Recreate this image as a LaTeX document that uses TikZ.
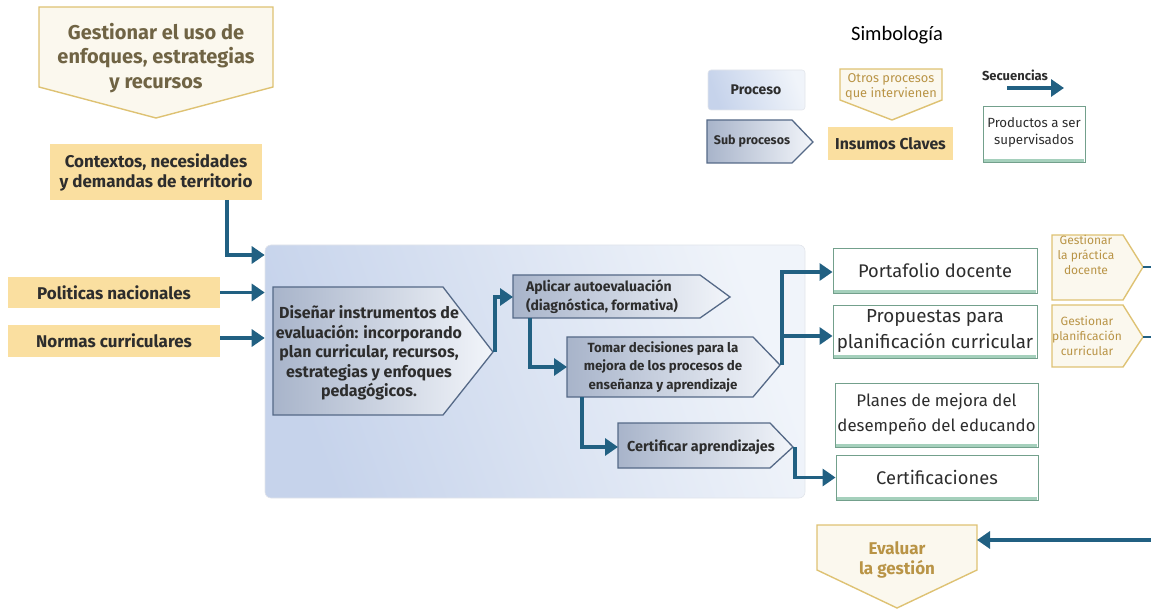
\documentclass[tikz,border=0pt]{standalone}
\usepackage{fontspec}
\setmainfont{Fira Sans}
\newfontfamily\calibri{Carlito}
\usetikzlibrary{arrows.meta}
\definecolor{arrowc}{RGB}{33,96,130}
\definecolor{insc}{RGB}{250,223,160}
\definecolor{txtdark}{RGB}{45,45,45}
\definecolor{goldb}{RGB}{222,194,115}
\definecolor{cream}{RGB}{251,248,238}
\definecolor{gtxt}{RGB}{112,100,68}
\definecolor{goldtxt}{RGB}{185,148,70}
\definecolor{subb}{RGB}{85,105,135}
\definecolor{subL}{RGB}{168,180,202}
\definecolor{subR}{RGB}{242,245,250}
\definecolor{procA}{RGB}{198,211,235}
\definecolor{procB}{RGB}{240,244,250}
\definecolor{prodb}{RGB}{115,160,140}
\definecolor{prodbar}{RGB}{165,208,188}
\begin{document}
\begin{tikzpicture}[x=1pt,y=-1pt,
  every node/.style={inner sep=0pt, align=center},
  arr/.style={draw=arrowc, line width=3.2pt, line join=miter, -{Triangle[length=13pt,width=17pt]}},
  plain/.style={draw=arrowc, line width=3.2pt, line join=miter},
  insumo/.style={fill=insc, text=txtdark, font=\bfseries\fontsize{17}{20}\selectfont},
  otros/.style={draw=goldb, line width=1.4pt, fill=cream},
  subp/.style={draw=subb, line width=1.3pt, left color=subL, right color=subR},
  subtxt/.style={text=txtdark, font=\bfseries\fontsize{13.5}{19}\selectfont},
  procbox/.style={draw=procA!80!black!30, line width=0.6pt, rounded corners=6pt, left color=procA, right color=procB, shading angle=110},
  prod/.style={draw=prodb, line width=0.9pt, fill=white},
  prodtxt/.style={text=txtdark, font=\fontsize{18.3}{24}\selectfont}
]
\useasboundingbox (0,0) rectangle (1151,609);

% ---------- legend ----------
\node[font=\calibri\fontsize{20.5}{22}\selectfont] (simb) at (897,35) {Simbología};
\path[procbox, rounded corners=3pt] (708,70) rectangle (805,110);
\node[subtxt, font=\bfseries\fontsize{14}{15}\selectfont] (lproc) at (756,90) {Proceso};
\path[subp] (707,120) -- (792,120) -- (813,142) -- (792,163) -- (707,163) -- cycle;
\node[subtxt, font=\bfseries\fontsize{12.5}{14}\selectfont] (lsub) at (752,141) {Sub procesos};
\path[otros] (840,69) -- (942,69) -- (942,100) -- (892,120) -- (840,100) -- cycle;
\node[text=goldtxt, font=\fontsize{12.8}{15}\selectfont] (lotros) at (891,87) {Otros procesos\\que intervienen};
\node[insumo, font=\bfseries\fontsize{15.8}{17}\selectfont, minimum width=125pt, minimum height=33pt] (lins) at (890.5,143.5) {Insumos Claves};
\node[text=txtdark, font=\bfseries\fontsize{13}{14}\selectfont] (lsec) at (1015,75) {Secuencias};
\coordinate (lsecA) at (1007,88);
\coordinate (lsecB) at (1064,88);
\draw[arr] (lsecA) -- (lsecB);
\node[prod, minimum width=102pt, minimum height=56pt] (lprod) at (1034,134) {};
\draw[prodbar, line width=2.5pt] ([xshift=1pt,yshift=2pt]lprod.south west) -- ([xshift=-1pt,yshift=2pt]lprod.south east);
\node[text=txtdark, font=\fontsize{13.3}{17}\selectfont] at (1034,132) {Productos a ser\\supervisados};

% ---------- top inputs ----------
\path[otros] (39,7) -- (273,7) -- (273,87) -- (156,118) -- (39,87) -- cycle;
\node[text=gtxt, font=\bfseries\fontsize{20}{24.5}\selectfont] (g1) at (156,58) {Gestionar el uso de\\enfoques, estrategias\\y recursos};

\node[insumo, minimum width=212pt, minimum height=56pt] (ctx) at (156,172) {Contextos, necesidades\\y demandas de territorio};
\node[insumo, minimum width=212pt, minimum height=31pt] (pol) at (114,292.5) {Politicas nacionales};
\node[insumo, minimum width=212pt, minimum height=32pt] (nor) at (114,341) {Normas curriculares};

% ---------- main process ----------
\node[procbox, minimum width=540pt, minimum height=253pt] (main) at (535,371.5) {};

\path[subp] (273,287) -- (443,287) -- (493,352) -- (443,415) -- (273,415) -- cycle;
\node[subtxt, font=\bfseries\fontsize{16}{19.5}\selectfont] (dis) at (369,353) {Diseñar instrumentos de\\evaluación: incorporando\\plan curricular, recursos,\\estrategias y enfoques\\pedagógicos.};
\coordinate (disTip) at (495,352);

\path[subp] (513,275) -- (700,275) -- (730,297) -- (700,318) -- (513,318) -- cycle;
\node[subtxt, align=left, font=\bfseries\fontsize{14}{19}\selectfont] (apl) at (602,297) {Aplicar autoevaluación\\(diagnóstica, formativa)};
\coordinate (aplW) at (513,297);
\coordinate (aplS) at (530,318);

\path[subp] (567,337) -- (753,337) -- (780,365) -- (753,397) -- (567,397) -- cycle;
\node[subtxt, font=\bfseries\fontsize{13.3}{18.5}\selectfont] (tom) at (663,367) {Tomar decisiones para la\\mejora de los procesos de\\enseñanza y aprendizaje};
\coordinate (tomW) at (567,367);
\coordinate (tomS) at (582,397);
\coordinate (tomTip) at (782,365);

\path[subp] (618,423) -- (770,423) -- (793,447) -- (770,468) -- (618,468) -- cycle;
\node[subtxt, font=\bfseries\fontsize{14.4}{16}\selectfont] (cer) at (701,447) {Certificar aprendizajes};
\coordinate (cerW) at (618,447);
\coordinate (cerTip) at (795,447);

% ---------- products ----------
\node[prod, minimum width=204pt, minimum height=45pt] (port) at (935,270.5) {};
\node[prod, minimum width=204pt, minimum height=53pt] (prop) at (935,331.5) {};
\node[prod, minimum width=203pt, minimum height=64pt] (plan) at (936.5,415) {};
\node[prod, minimum width=202pt, minimum height=45pt] (certs) at (937,477.5) {};
\foreach \n in {port,prop,plan,certs}{
  \draw[prodbar, line width=2.5pt] ([xshift=1pt,yshift=2pt]\n.south west) -- ([xshift=-1pt,yshift=2pt]\n.south east);
}
\node[prodtxt] at (935,270) {Portafolio docente};
\node[prodtxt, font=\fontsize{18.8}{26}\selectfont] at (935,331) {Propuestas para\\planificación curricular};
\node[prodtxt, font=\fontsize{16.8}{25}\selectfont] at (936.5,414) {Planes de mejora del\\desempeño del educando};
\node[prodtxt] at (937,477) {Certificaciones};

% ---------- other processes (right / bottom) ----------
\path[otros] (1052,235) -- (1123,235) -- (1143,267) -- (1123,300) -- (1052,300) -- cycle;
\node[text=goldtxt, font=\fontsize{12}{15}\selectfont] (gp1) at (1086,255) {Gestionar\\la práctica\\docente};
\coordinate (gp1Tip) at (1143,267);
\coordinate (gp1E) at (1151,267);
\path[otros] (1052,305) -- (1123,305) -- (1143,337) -- (1123,367) -- (1052,367) -- cycle;
\node[text=goldtxt, font=\fontsize{12}{15}\selectfont] (gp2) at (1087,336) {Gestionar\\planificación\\curricular};
\coordinate (gp2Tip) at (1143,337);
\coordinate (gp2E) at (1151,337);
\draw[plain, line width=2.2pt] (gp1Tip) -- (gp1E);
\draw[plain, line width=2.2pt] (gp2Tip) -- (gp2E);

\path[otros] (817,525) -- (977,525) -- (977,570) -- (897,608) -- (817,570) -- cycle;
\node[text=goldtxt, font=\bfseries\fontsize{17}{20}\selectfont] (ev) at (897,560) {Evaluar\\la gestión};
\coordinate (evE) at (977,540);
\coordinate (evIn) at (1151,540);

% ---------- connectors ----------
\coordinate (ctxS) at (227,200);
\draw[arr] (ctxS) |- (main.west |- 0,255);
\draw[arr] (pol.east) -- (main.west |- pol.east);
\draw[arr] (nor.east |- 0,338) -- (main.west |- 0,338);
\draw[arr] (disTip) |- (aplW);
\draw[arr] (aplS) |- (tomW);
\draw[arr] (tomS) |- (cerW);
\draw[arr] (tomTip) |- (port.west |- 0,272);
\draw[arr] (tomTip |- 0,336) -- (prop.west |- 0,336);
\draw[arr] (cerTip) |- (certs.west);
\draw[arr] (evIn) -- (evE);
\end{tikzpicture}
\end{document}
